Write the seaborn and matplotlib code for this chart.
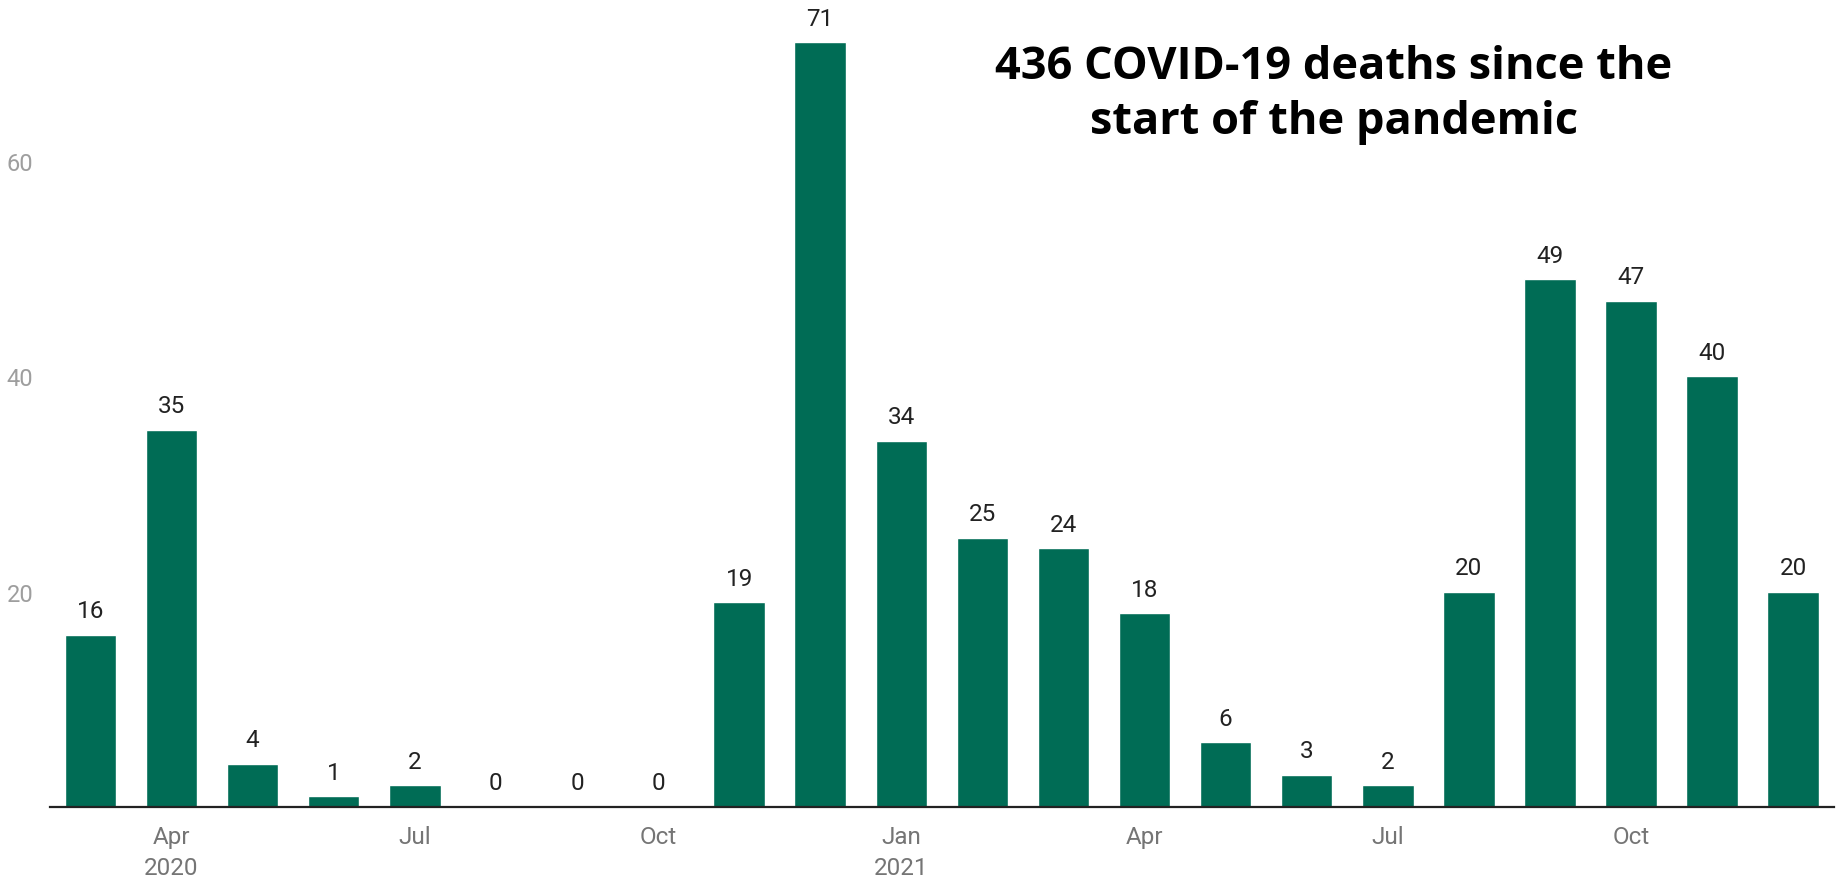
import pandas as pd
import matplotlib.pyplot as plt
import seaborn as sns

# monthly COVID-19 deaths, Mar 2020 - Dec 2021
months = ["2020-03", "2020-04", "2020-05", "2020-06", "2020-07", "2020-08",
          "2020-09", "2020-10", "2020-11", "2020-12", "2021-01", "2021-02",
          "2021-03", "2021-04", "2021-05", "2021-06", "2021-07", "2021-08",
          "2021-09", "2021-10", "2021-11", "2021-12"]
deaths = [16, 35, 4, 1, 2, 0, 0, 0, 19, 71, 34, 25, 24, 18, 6, 3, 2, 20, 49, 47, 40, 20]

tick_months = ["2020-04", "2020-07", "2020-10", "2021-01", "2021-04", "2021-07", "2021-10"]
tick_labels = ["Apr\n2020", "Jul", "Oct", "Jan\n2021", "Apr", "Jul", "Oct"]

title = "436 COVID-19 deaths since the\nstart of the pandemic"

df = pd.DataFrame({"month": months, "deaths": deaths})

sns.set_style("white")
plt.rcParams['font.family'] = ['Roboto', 'DejaVu Sans']

fig = plt.figure(figsize=(18.37, 8.79), dpi=100)
ax = fig.add_axes([0.0272, 0.0808, 0.971, 0.9192])

sns.barplot(data=df, x="month", y="deaths", color="#006c55", saturation=1,
            width=0.635, ax=ax)

ax.bar_label(ax.containers[0], labels=[str(v) for v in deaths], padding=9,
             fontsize=17.5, color="#222222")

ax.set_xlim(-0.5, 21.5)
ax.set_ylim(0, 75)
ax.set_yticks([20, 40, 60])
ax.set_yticklabels(["20", "40", "60"])
ax.set_xticks([months.index(m) for m in tick_months])
ax.set_xticklabels(tick_labels, linespacing=1.45)
ax.tick_params(axis="y", length=0, pad=12, labelsize=17, labelcolor="#9e9e9e")
ax.tick_params(axis="x", length=0, pad=13, labelsize=17.5, labelcolor="#757575")
ax.set_xlabel("")
ax.set_ylabel("")

for side in ["top", "right", "left"]:
    ax.spines[side].set_visible(False)
ax.spines["bottom"].set_color("#222222")
ax.spines["bottom"].set_linewidth(1.6)

# headline in the upper right
fig.text(0.726, 0.892, title, ha="center", va="center", fontsize=32.5,
         fontweight="bold", family=["Open Sans", "DejaVu Sans"],
         color="black", linespacing=1.27)

fig.savefig("out.png", dpi=100, facecolor="white")
